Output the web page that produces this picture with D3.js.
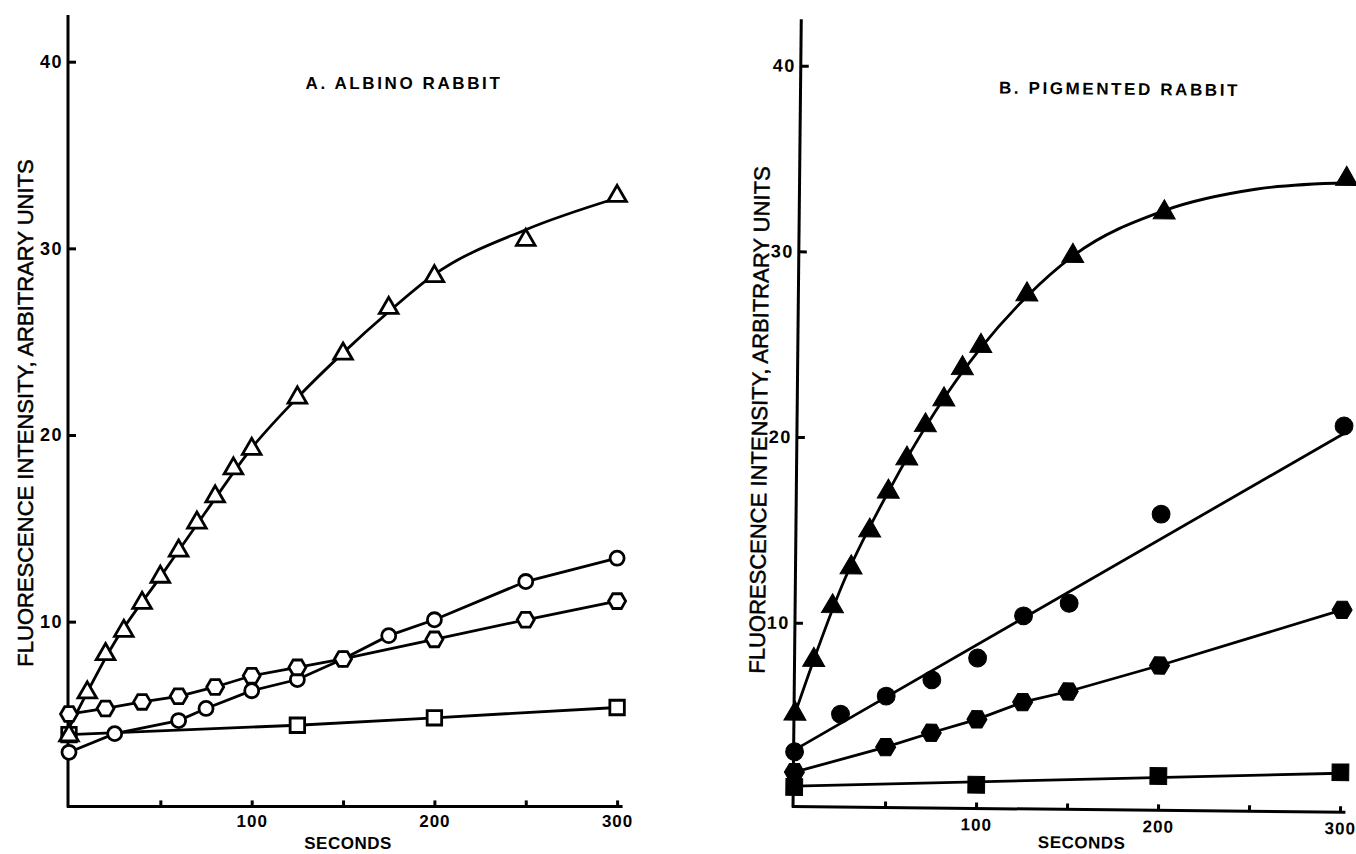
<!DOCTYPE html>
<html>
<head>
<meta charset="utf-8">
<script src="https://cdn.jsdelivr.net/npm/d3@7"></script>
<style>
  body { margin: 0; background: #fff; }
  text { font-family: "Liberation Sans", Arial, Helvetica, sans-serif; fill: #000; }
</style>
</head>
<body>
<svg id="chart" width="1356" height="854"></svg>
<script>
// ticks
const secTicks = [50, 100, 150, 200, 250, 300];
const secLabels = [100, 200, 300];
const intTicks = [10, 20, 30, 40];

// A. albino rabbit (open symbols)
const albTriT = [0, 10, 20, 30, 40, 50, 60, 70, 80, 90, 100, 125, 150, 175, 200, 250, 300];
const albTriV = [3.9, 6.2, 8.25, 9.5, 11.0, 12.4, 13.8, 15.3, 16.7, 18.2, 19.25, 22.0, 24.35, 26.8, 28.5, 30.45, 32.8];
// hand drawn curve through the triangles
const albTriFitT = [0, 25, 50, 75, 100, 125, 150, 175, 200, 250, 300];
const albTriFitV = [4.3, 8.9, 12.4, 15.9, 19.3, 22.0, 24.4, 26.6, 28.6, 31.0, 32.7];
const albCircT = [0, 25, 60, 75, 100, 125, 150, 175, 200, 250, 300];
const albCircV = [3.0, 4.0, 4.7, 5.35, 6.3, 6.9, 8.0, 9.25, 10.1, 12.15, 13.4];
const albHexT = [0, 20, 40, 60, 80, 100, 125, 150, 200, 250, 300];
const albHexV = [5.05, 5.35, 5.7, 6.0, 6.5, 7.1, 7.55, 8.0, 9.05, 10.1, 11.1];
const albSqT = [0, 125, 200, 300];
const albSqV = [3.95, 4.45, 4.85, 5.4];

// B. pigmented rabbit (filled symbols)
const pigTriT = [0, 10, 20, 30, 40, 50, 60, 70, 80, 90, 100, 125, 150, 200, 300];
const pigTriV = [5.1, 8.0, 10.9, 13.0, 15.0, 17.1, 18.9, 20.7, 22.1, 23.8, 25.0, 27.8, 29.9, 32.3, 34.2];
const pigTriFitT = [0, 10, 25, 50, 75, 100, 125, 150, 200, 250, 300];
const pigTriFitV = [5.1, 8.0, 12.0, 17.1, 21.4, 24.9, 27.7, 29.9, 32.4, 33.6, 34.0];
const pigCircT = [0, 25, 50, 75, 100, 125, 150, 200, 300];
const pigCircV = [3.05, 5.1, 6.1, 7.0, 8.2, 10.5, 11.2, 16.05, 20.9];
// the drawn line for the filled circles is a fit, not point-to-point
const pigCircFitT = [0, 300];
const pigCircFitV = [3.15, 20.5];
const pigHexT = [0, 50, 75, 100, 125, 150, 200, 300];
const pigHexV = [1.95, 3.35, 4.15, 4.9, 5.85, 6.45, 7.9, 11.0];
const pigSqT = [0, 100, 200, 300];
const pigSqV = [1.15, 1.38, 1.95, 2.25];
const pigSqFitT = [0, 300];
const pigSqFitV = [1.2, 2.2];

const svg = d3.select('#chart');

// hexagon with points left and right
function hexagon(r) {
  return {
    draw(ctx) {
      for (let i = 0; i < 6; i++) {
        const a = i * Math.PI / 3;
        if (i === 0) ctx.moveTo(r * Math.cos(a), r * Math.sin(a));
        else ctx.lineTo(r * Math.cos(a), r * Math.sin(a));
      }
      ctx.closePath();
    }
  };
}

function drawPanel(p) {
  const g = svg.append('g').attr('transform', p.transform);

  const x = d3.scaleLinear().domain([0, 300]).range([p.x0, p.x0 + 300 * p.kx]);
  const y = d3.scaleLinear().domain([0, 40]).range([p.y0, p.y0 - 40 * p.ky]);
  const axisY = y(0.1);

  // axis lines
  g.append('line')
    .attr('x1', x(0) - 1).attr('x2', x(0) - 1)
    .attr('y1', axisY + 1).attr('y2', y(42.5))
    .attr('stroke', '#000').attr('stroke-width', 3);
  g.append('line')
    .attr('x1', x(0) - 2).attr('x2', x(303))
    .attr('y1', axisY).attr('y2', axisY)
    .attr('stroke', '#000').attr('stroke-width', 3);

  // x ticks (pointing up)
  const xa = g.append('g')
    .attr('transform', 'translate(0,' + axisY + ')')
    .call(d3.axisBottom(x).tickValues(secTicks).tickSize(-6).tickSizeOuter(0)
      .tickFormat(d => secLabels.includes(d) ? d : ''));
  xa.select('.domain').remove();
  xa.selectAll('line').attr('stroke', '#000').attr('stroke-width', 3);
  xa.selectAll('text')
    .attr('y', p.xLabelDy).attr('dy', 0)
    .style('font-size', '17px').style('font-weight', 'bold').style('letter-spacing', '1px');

  // y ticks (pointing in)
  const ya = g.append('g')
    .attr('transform', 'translate(' + (x(0) - 1) + ',0)')
    .call(d3.axisLeft(y).tickValues(intTicks).tickSize(-8).tickSizeOuter(0).tickPadding(5));
  ya.select('.domain').remove();
  ya.selectAll('line').attr('stroke', '#000').attr('stroke-width', 3);
  ya.selectAll('text')
    .style('font-size', '18px').style('font-weight', 'bold').style('letter-spacing', '1.5px');

  // labels
  g.append('text')
    .attr('x', p.secX).attr('y', p.secY)
    .attr('text-anchor', 'middle')
    .style('font-size', '17px').style('font-weight', 'bold').style('letter-spacing', '0.5px')
    .text('SECONDS');

  g.append('text')
    .attr('transform', 'translate(' + p.yLabX + ',' + p.yLabY + ') rotate(-90)')
    .attr('text-anchor', 'middle')
    .style('font-size', '22px')
    .style('stroke', '#000').style('stroke-width', 0.5)
    .text('FLUORESCENCE INTENSITY, ARBITRARY UNITS');

  g.append('text')
    .attr('x', p.titleX).attr('y', p.titleY)
    .attr('text-anchor', 'middle')
    .style('font-size', '17px').style('font-weight', 'bold').style('letter-spacing', '2.6px')
    .text(p.title);

  // fitted / connecting lines
  p.series.forEach(s => {
    const line = d3.line()
      .x(d => x(d[0]))
      .y(d => y(d[1]))
      .curve(s.curve || d3.curveLinear);
    const pts = s.fitT ? d3.zip(s.fitT, s.fitV) : d3.zip(s.t, s.v);
    g.append('path')
      .datum(pts)
      .attr('d', line)
      .attr('fill', 'none')
      .attr('stroke', '#000')
      .attr('stroke-width', 2.8);
  });

  // markers
  p.series.forEach(s => {
    const sym = d3.symbol().type(s.shape).size(s.size || 64);
    g.append('g')
      .selectAll('path')
      .data(d3.zip(s.t, s.v))
      .join('path')
      .attr('transform', d => 'translate(' + x(d[0]) + ',' + y(d[1]) + ')')
      .attr('d', sym)
      .attr('fill', p.filled ? '#000' : '#fff')
      .attr('stroke', '#000')
      .attr('stroke-width', p.filled ? 1 : 2.8);
  });
}

drawPanel({
  title: 'A. ALBINO RABBIT',
  transform: null,
  x0: 69, kx: 1.827, y0: 808.3, ky: 18.665,
  xLabelDy: 21, secX: 348, secY: 849,
  yLabX: 33, yLabY: 413,
  titleX: 404, titleY: 89,
  filled: false,
  series: [
    {t: albSqT, v: albSqV, shape: d3.symbolSquare, size: 210},
    {t: albCircT, v: albCircV, shape: d3.symbolCircle, size: 155},
    {t: albHexT, v: albHexV, shape: hexagon(8.5)},
    {t: albTriT, v: albTriV, fitT: albTriFitT, fitV: albTriFitV, shape: d3.symbolTriangle, size: 150, curve: d3.curveMonotoneX}
  ]
});

// the right half of the scan is turned a little clockwise
drawPanel({
  title: 'B. PIGMENTED RABBIT',
  transform: 'translate(794,808.4) rotate(0.6)',
  x0: 0, kx: 1.82, y0: 0, ky: 18.57,
  xLabelDy: 22, secX: 288, secY: 37,
  yLabX: -31, yLabY: -388,
  titleX: 318, titleY: -717,
  filled: true,
  series: [
    {t: pigSqT, v: pigSqV, fitT: pigSqFitT, fitV: pigSqFitV, shape: d3.symbolSquare, size: 280},
    {t: pigHexT, v: pigHexV, shape: hexagon(10)},
    {t: pigCircT, v: pigCircV, fitT: pigCircFitT, fitV: pigCircFitV, shape: d3.symbolCircle, size: 250},
    {t: pigTriT, v: pigTriV, fitT: pigTriFitT, fitV: pigTriFitV, shape: d3.symbolTriangle, size: 210, curve: d3.curveMonotoneX}
  ]
});
</script>
</body>
</html>
